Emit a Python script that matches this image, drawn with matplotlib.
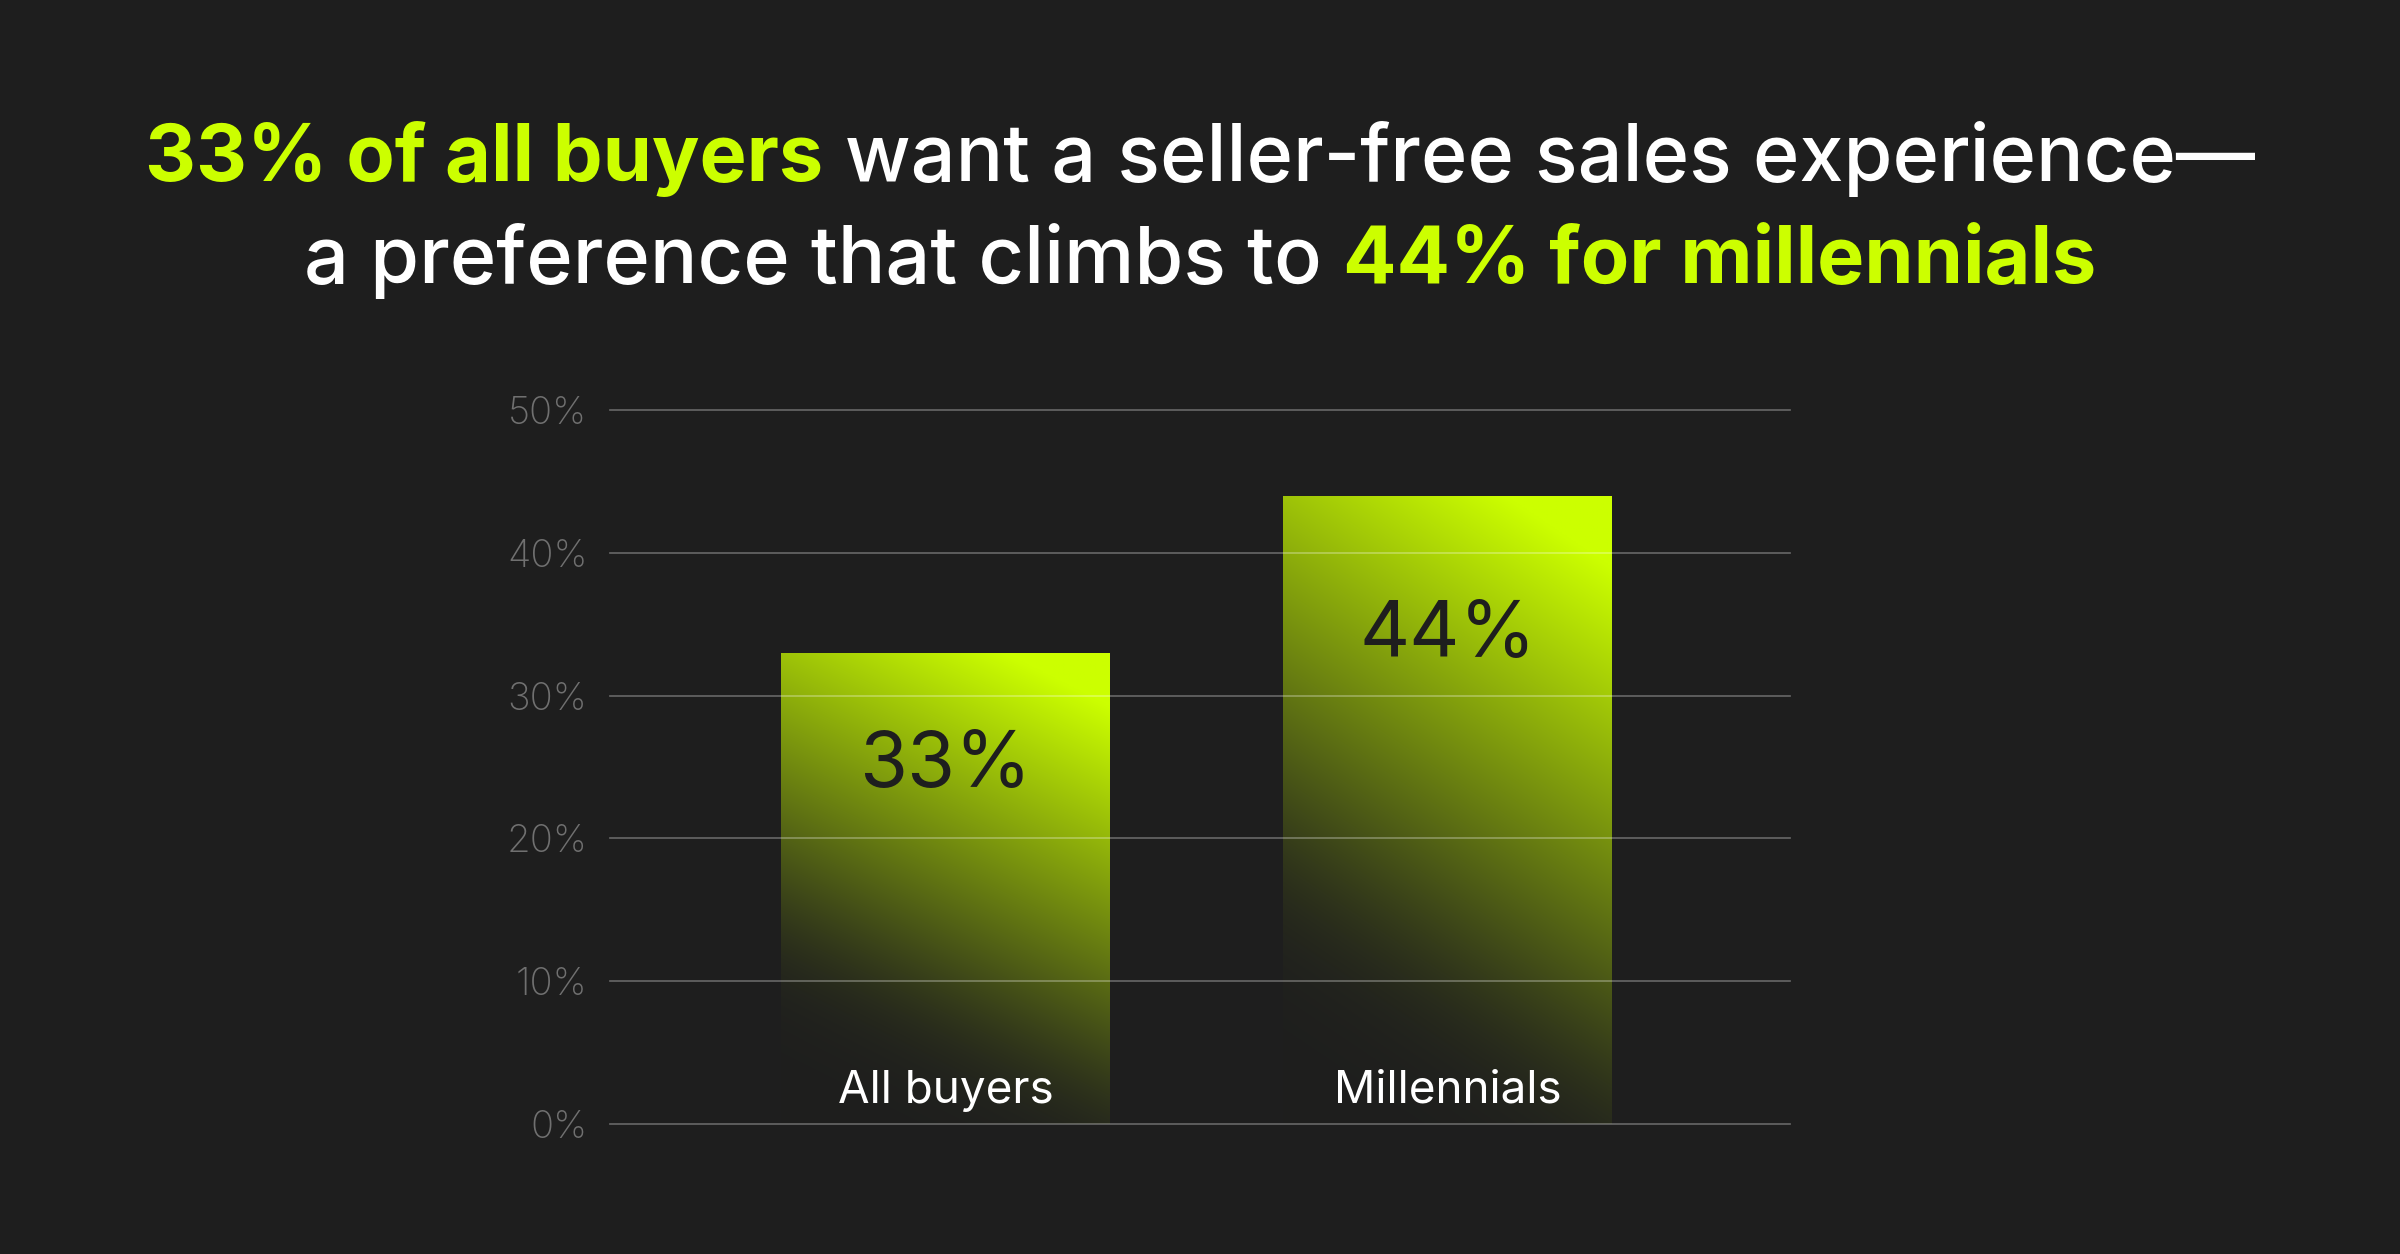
import numpy as np
import matplotlib
matplotlib.use("Agg")
import matplotlib.pyplot as plt
from matplotlib.colors import to_rgb

# ---- data ----
categories = ["All buyers", "Millennials"]
values = [33, 44]
yticks = [0, 10, 20, 30, 40, 50]
ytick_labels = ["0%", "10%", "20%", "30%", "40%", "50%"]

title_line1 = [("33% of all buyers", "lime", "bold"),
               ("want a seller-free sales experience\u2014", "white", "medium")]
title_line2 = [("a preference that climbs to", "white", "medium"),
               ("44% for millennials", "lime", "bold")]

# ---- style ----
BG = "#1e1e1e"
LIME = "#ccff00"
colors = {"lime": LIME, "white": "#ffffff"}
plt.rcParams['font.family'] = ['Inter', 'DejaVu Sans']

W, H = 2400, 1254
fig = plt.figure(figsize=(W / 100, H / 100), dpi=100, facecolor=BG)
ax = fig.add_axes([0.254, 0.1037, 0.4917, 0.5693])
ax.set_facecolor(BG)

x = np.arange(len(categories))
bars = ax.bar(x, values, width=0.655, color='none', zorder=1)


def gradient_img(n=400):
    # diagonal fade: lime at the top right, background at the bottom left
    u = np.linspace(0, 1, n)
    U, V = np.meshgrid(u, u)
    t = 0.37 * U + 1.05 * V - 0.36
    k = 14.0
    s = np.log1p(np.exp(k * t)) / k      # soft tail instead of a hard cut
    s = np.clip(s / 0.94, 0, 1)
    bg = np.array(to_rgb(BG))
    fg = np.array(to_rgb(LIME))
    return bg + (fg - bg) * s[..., None]


for b in bars:
    x0, y0, w, h = b.get_x(), b.get_y(), b.get_width(), b.get_height()
    im = ax.imshow(gradient_img(), extent=[x0, x0 + w, y0, y0 + h],
                   origin='lower', aspect='auto', zorder=1, interpolation='bilinear')
    im.set_clip_path(b)

# gridlines drawn above the bars
for yv in yticks:
    ax.axhline(yv, color='white', alpha=0.33, lw=1.2, zorder=2, clip_on=False)

ax.set_xlim(-0.669, 1.681)
ax.set_ylim(0, 50)
ax.set_yticks(yticks)
ax.set_yticklabels(ytick_labels)
ax.set_xticks([])
ax.tick_params(axis='y', length=0, pad=16, labelsize=27.5, labelcolor='#707070')
for lab in ax.get_yticklabels():
    lab.set_fontweight('light')
for sp in ax.spines.values():
    sp.set_visible(False)

for xi, val, cat in zip(x, values, categories):
    ax.text(xi, val * 0.83 - 3.8, f"{val}%", ha='center', va='baseline',
            fontsize=56, color=BG, fontweight='normal', zorder=3)
    ax.text(xi, 1.5, cat, ha='center', va='baseline',
            fontsize=33, color='white', zorder=3)


# ---- two-colour title ----
renderer = fig.canvas.get_renderer()


def text_width(s, **kw):
    t = fig.text(0, 0, s, **kw)
    w_ = t.get_window_extent(renderer).width
    t.remove()
    return w_


def rich_line(parts, y, size):
    kw_space = dict(fontsize=size, fontweight='medium')
    space = text_width("a a", **kw_space) - text_width("aa", **kw_space)
    texts = []
    for s, c, wt in parts:
        texts.append(fig.text(0, y, s, color=colors[c], fontsize=size,
                              fontweight=wt, va='baseline', ha='left'))
    widths = [t.get_window_extent(renderer).width for t in texts]
    total = sum(widths) + space * (len(texts) - 1)
    xp = (W - total) / 2
    for t, w_ in zip(texts, widths):
        t.set_x(xp / W)
        xp += w_ + space


rich_line(title_line1, 0.856, 57)
rich_line(title_line2, 0.774, 57)

fig.savefig("out.png", dpi=100, facecolor=BG)
